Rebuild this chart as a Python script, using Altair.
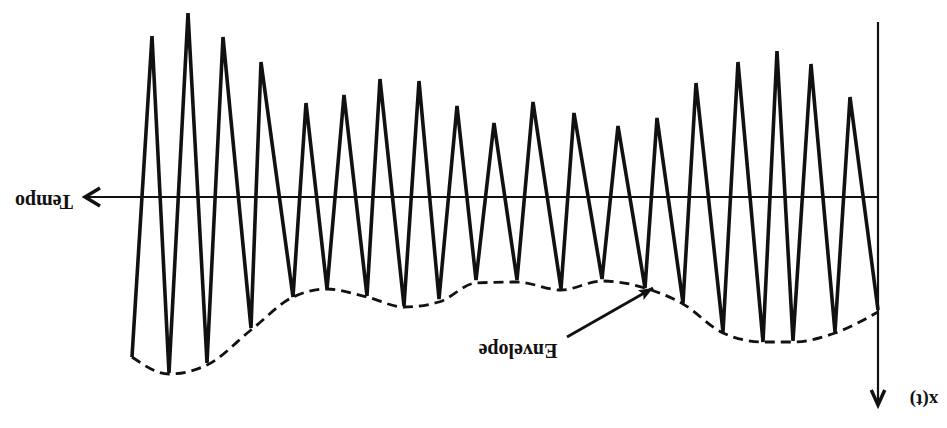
import altair as alt
import pandas as pd

# Signal x(t): turning points of the oscillation (t = time along the Tempo axis,
# a = amplitude, positive in the direction of the x(t) arrow)
sig_t = [74.6, 72.6, 70.9, 69.0, 67.1, 65.5, 62.7, 61.7, 58.5, 57.2, 55.1, 53.4,
         51.1, 49.8, 47.4, 45.9, 43.9, 42.1, 40.2, 38.4, 36.1, 34.5, 31.7, 30.4,
         27.6, 26.0, 23.3, 22.1, 19.5, 18.2, 15.5, 14.0, 11.5, 10.1, 8.5, 6.7,
         4.3, 2.8, 0.0]
sig_a = [80, -80.5, 88, -92, 83, -80, 65.5, -67.5, 50, -47, 46, -51,
         49.5, -59, 54.5, -58, 51, -45.5, 41.5, -37, 41.5, -47.5, 46, -42,
         41, -35.5, 45.5, -39.5, 53, -57, 67.5, -67.5, 72.5, -73, 72, -66.5,
         67.5, -50, 56.5]

# Envelope traced along the positive excursions
env_t = [74.6, 70.9, 67.1, 62.7, 58.5, 55.1, 51.1, 47.4, 43.9, 40.2, 36.1,
         31.7, 27.6, 23.3, 19.5, 15.5, 11.5, 8.5, 4.3, 0.0]
env_a = [80, 88.5, 84, 66.5, 50, 46, 50, 55, 52.5, 43, 42.5,
         46.5, 42, 45.5, 53.5, 68, 72.5, 72.5, 68, 57.5]

# Axis extents
time_axis_end = 79.3
amp_axis_top = -87.5
amp_axis_end = 104

# Labels
label_text = ["Tempo", "Envelope", "x(t)"]
label_t = [83.4, 36.0, -4.6]
label_a = [2, 76.5, 101.5]
label_size = [20, 20, 19]

# Pointer to the envelope
ptr_t = [31.1, 22.5]
ptr_a = [70, 45.5]

xs = alt.Scale(domain=[-6.9, 87.8], reverse=True, nice=False, zero=False)
ys = alt.Scale(domain=[-98.5, 115.5], reverse=True, nice=False, zero=False)

def X(field="t"):
    return alt.X(f"{field}:Q", scale=xs, axis=None)

def Y(field="a"):
    return alt.Y(f"{field}:Q", scale=ys, axis=None)

INK = "#111111"

sig_df = pd.DataFrame({"t": sig_t, "a": sig_a, "i": range(len(sig_t))})
env_df = pd.DataFrame({"t": env_t, "a": env_a})

signal = alt.Chart(sig_df).mark_line(color=INK, strokeWidth=3.6).encode(
    x=X(), y=Y(), order="i:Q"
)

envelope = alt.Chart(env_df).mark_line(
    color=INK, strokeWidth=2.8, strokeDash=[10, 6], interpolate="monotone"
).encode(x=X(), y=Y())

time_axis = alt.Chart(pd.DataFrame({"t": [0.0], "t2": [time_axis_end], "a": [0.0]})).mark_rule(
    color=INK, strokeWidth=2.2
).encode(x=X(), x2="t2:Q", y=Y())

amp_axis = alt.Chart(pd.DataFrame({"t": [0.0], "a": [amp_axis_top], "a2": [amp_axis_end]})).mark_rule(
    color=INK, strokeWidth=2.2
).encode(x=X(), y=Y(), y2="a2:Q")

pointer = alt.Chart(pd.DataFrame({"t": [ptr_t[0]], "t2": [ptr_t[1]],
                                  "a": [ptr_a[0]], "a2": [ptr_a[1]]})).mark_rule(
    color=INK, strokeWidth=2.8
).encode(x=X(), x2="t2:Q", y=Y(), y2="a2:Q")

# Open arrowheads on the axes, tip at the data point
head_left = alt.Chart(pd.DataFrame({"t": [time_axis_end], "a": [0.0]})).mark_point(
    shape="M 2 -1.2 L 0 0 L 2 1.2", size=225, filled=False, color=INK, strokeWidth=3.5, opacity=1
).encode(x=X(), y=Y())

head_down = alt.Chart(pd.DataFrame({"t": [0.0], "a": [amp_axis_end]})).mark_point(
    shape="M -0.9 -2 L 0 0 L 0.9 -2", size=225, filled=False, color=INK, strokeWidth=3.5, opacity=1
).encode(x=X(), y=Y())

# Solid head on the envelope pointer
head_ptr = alt.Chart(pd.DataFrame({"t": [ptr_t[1]], "a": [ptr_a[1]]})).mark_point(
    shape="M -2 -0.8 L 0 0 L -2 0.8 L -1.6 0 Z", size=200, filled=True, color=INK,
    strokeWidth=1.5, opacity=1, angle=330
).encode(x=X(), y=Y())

labels = alt.Chart(pd.DataFrame({"t": label_t, "a": label_a, "label": label_text,
                                 "size": label_size})).mark_text(
    font="Liberation Serif", fontWeight="bold", color=INK,
    angle=180, align="center", baseline="middle"
).encode(x=X(), y=Y(), text="label:N", size=alt.Size("size:Q", scale=None, legend=None))

chart = alt.layer(
    envelope, time_axis, amp_axis, signal, pointer, head_left, head_down, head_ptr, labels
).properties(
    width=947, height=428, padding=0, autosize=alt.AutoSizeParams(type="none"),
    background="white"
).configure_view(stroke=None)

chart.save("out.html", embed_options={"renderer": "svg", "actions": False})
